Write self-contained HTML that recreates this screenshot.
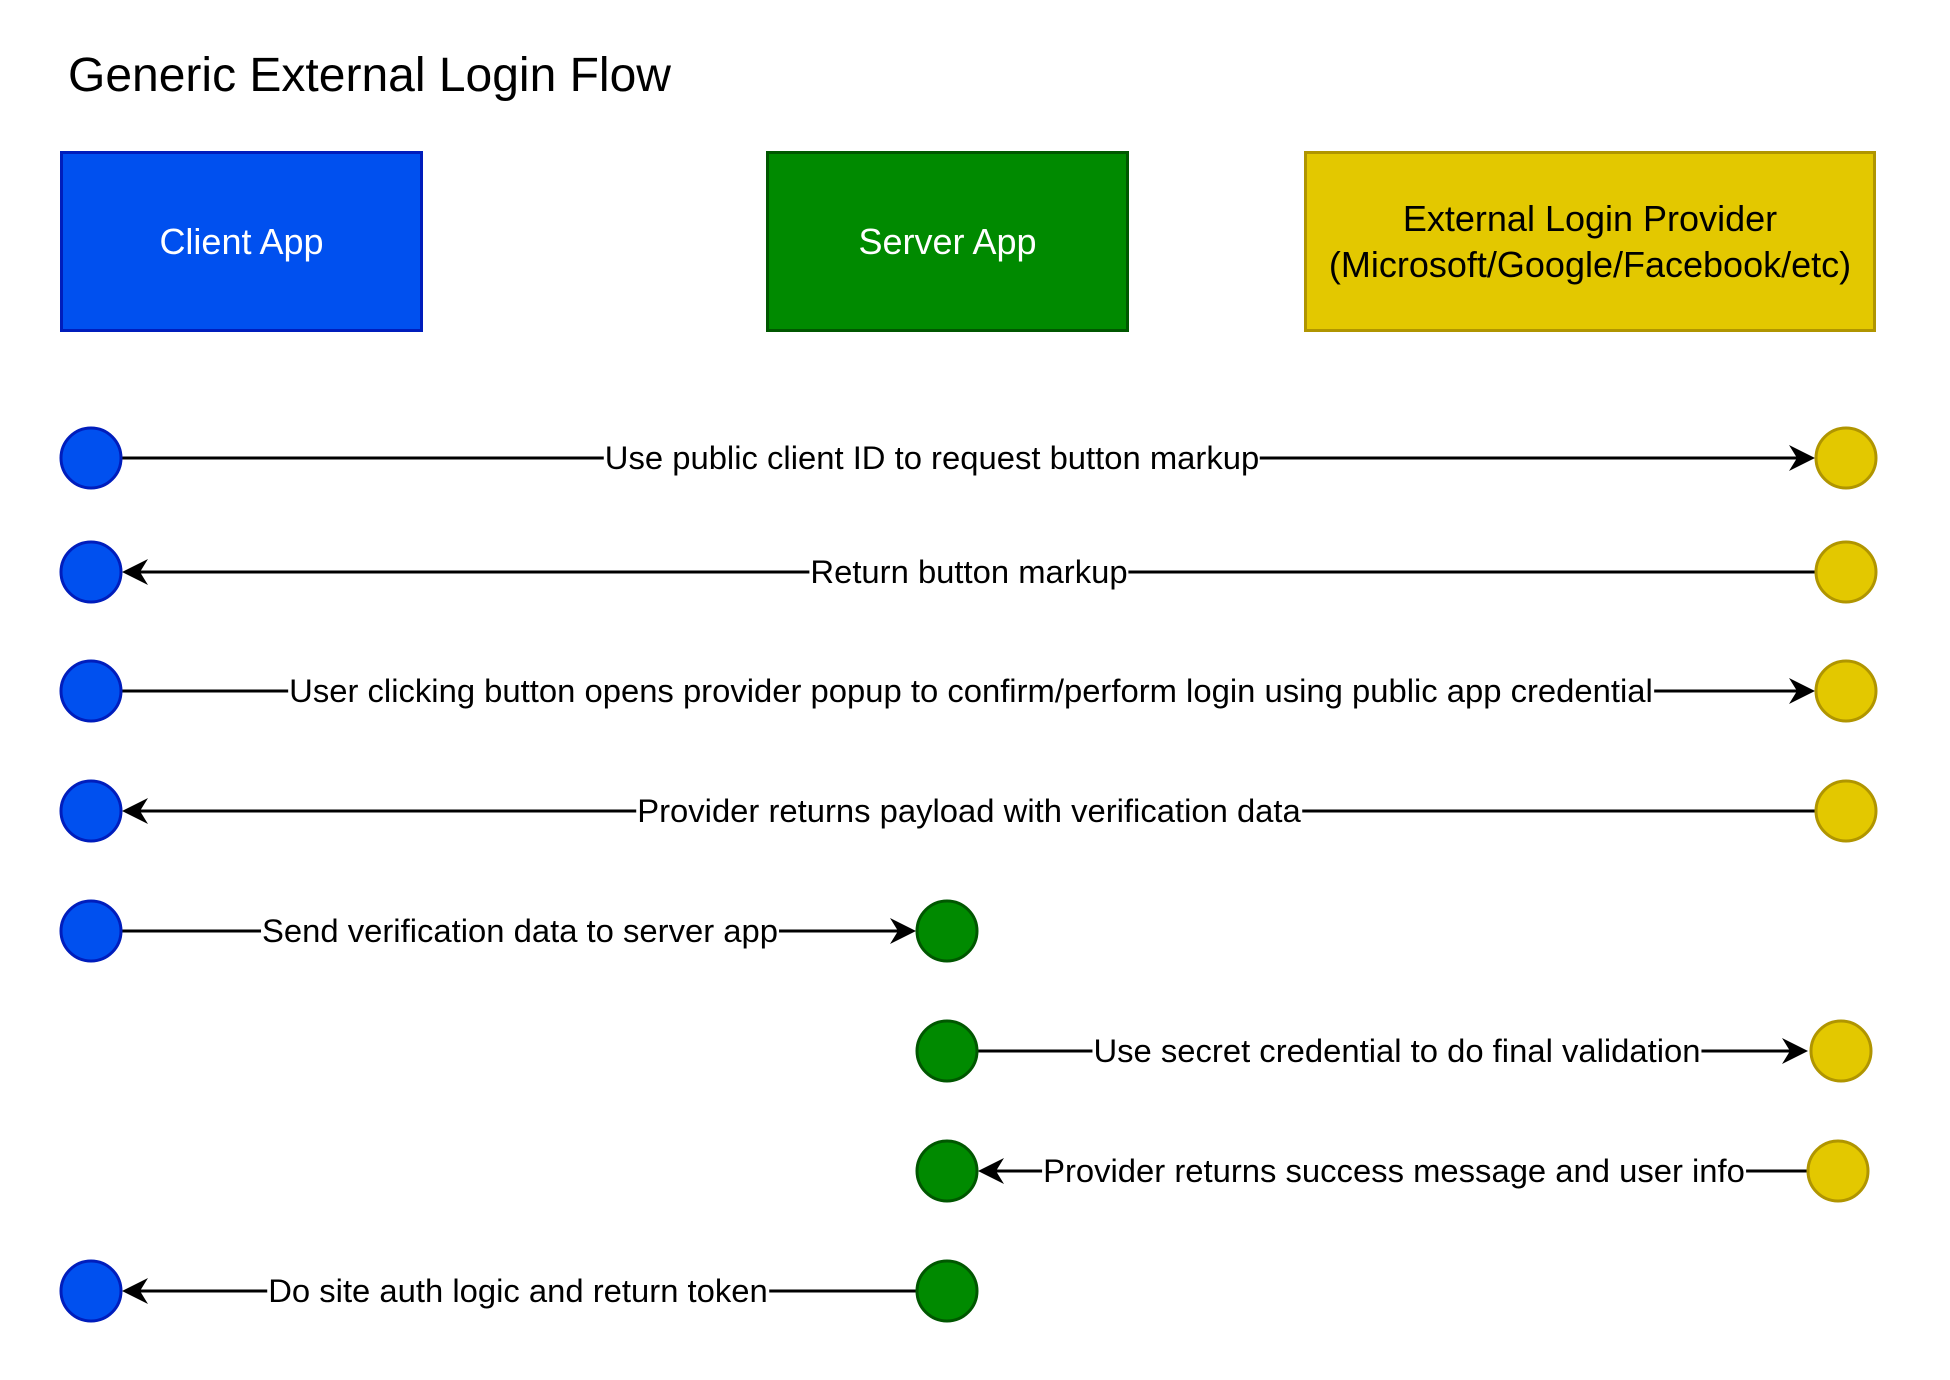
<!DOCTYPE html>
<html><head><meta charset="utf-8"><style>
html,body{margin:0;padding:0;background:#fff;}
body{width:1950px;height:1380px;position:relative;overflow:hidden;font-family:"Liberation Sans",Arial,sans-serif;}
.t{position:absolute;white-space:nowrap;transform:translate(-50%,-50%);background:#fff;font-size:32.8px;color:#000;line-height:36px;padding:0 1px;}
.box{position:absolute;box-sizing:border-box;border:3px solid;display:flex;align-items:center;justify-content:center;text-align:center;font-size:36px;line-height:46px;}
</style></head><body>
<div style="position:absolute;left:68px;top:48px;font-size:48px;line-height:56px;">Generic External Login Flow</div>
<div class="box" style="left:60px;top:151px;width:363px;height:181px;background:#0050EF;border-color:#001DBC;color:#fff;">Client App</div>
<div class="box" style="left:766px;top:151px;width:363px;height:181px;background:#008A00;border-color:#005700;color:#fff;">Server App</div>
<div class="box" style="left:1304px;top:151px;width:572px;height:181px;background:#E3C800;border-color:#B09500;color:#000;">External Login Provider<br>(Microsoft/Google/Facebook/etc)</div>
<svg width="1950" height="1380" style="position:absolute;left:0;top:0">
<defs>
<path id="ar" d="M0,0 L-26,-13 L-18,0 L-26,13 Z" fill="#000"/>
</defs>
<g stroke="#000" stroke-width="3">
<line x1="122" y1="458" x2="1808" y2="458"/>
<line x1="130" y1="572" x2="1816" y2="572"/>
<line x1="122" y1="691" x2="1808" y2="691"/>
<line x1="130" y1="811" x2="1816" y2="811"/>
<line x1="122" y1="931" x2="904" y2="931"/>
<line x1="978" y1="1051" x2="1801" y2="1051"/>
<line x1="986" y1="1171" x2="1808" y2="1171"/>
<line x1="130" y1="1291" x2="916" y2="1291"/>
</g>
<use href="#ar" transform="translate(1815,458)"/>
<use href="#ar" transform="translate(122,572) rotate(180)"/>
<use href="#ar" transform="translate(1815,691)"/>
<use href="#ar" transform="translate(122,811) rotate(180)"/>
<use href="#ar" transform="translate(916,931)"/>
<use href="#ar" transform="translate(1808,1051)"/>
<use href="#ar" transform="translate(978,1171) rotate(180)"/>
<use href="#ar" transform="translate(122,1291) rotate(180)"/>
<g stroke-width="3">
<g fill="#0050EF" stroke="#001DBC">
<circle cx="91" cy="458" r="30"/><circle cx="91" cy="572" r="30"/><circle cx="91" cy="691" r="30"/><circle cx="91" cy="811" r="30"/><circle cx="91" cy="931" r="30"/><circle cx="91" cy="1291" r="30"/>
</g>
<g fill="#008A00" stroke="#005700">
<circle cx="947" cy="931" r="30"/><circle cx="947" cy="1051" r="30"/><circle cx="947" cy="1171" r="30"/><circle cx="947" cy="1291" r="30"/>
</g>
<g fill="#E3C800" stroke="#B09500">
<circle cx="1846" cy="458" r="30"/><circle cx="1846" cy="572" r="30"/><circle cx="1846" cy="691" r="30"/><circle cx="1846" cy="811" r="30"/><circle cx="1841" cy="1051" r="30"/><circle cx="1838" cy="1171" r="30"/>
</g>
</g>
</svg>
<div class="t" style="left:932px;top:458px;">Use public client ID to request button markup</div>
<div class="t" style="left:969px;top:572px;">Return button markup</div>
<div class="t" style="left:971px;top:691px;">User clicking button opens provider popup to confirm/perform login using public app credential</div>
<div class="t" style="left:969px;top:811px;">Provider returns payload with verification data</div>
<div class="t" style="left:520px;top:931px;">Send verification data to server app</div>
<div class="t" style="left:1397px;top:1051px;">Use secret credential to do final validation</div>
<div class="t" style="left:1394px;top:1171px;">Provider returns success message and user info</div>
<div class="t" style="left:518px;top:1291px;">Do site auth logic and return token</div>
</body></html>
